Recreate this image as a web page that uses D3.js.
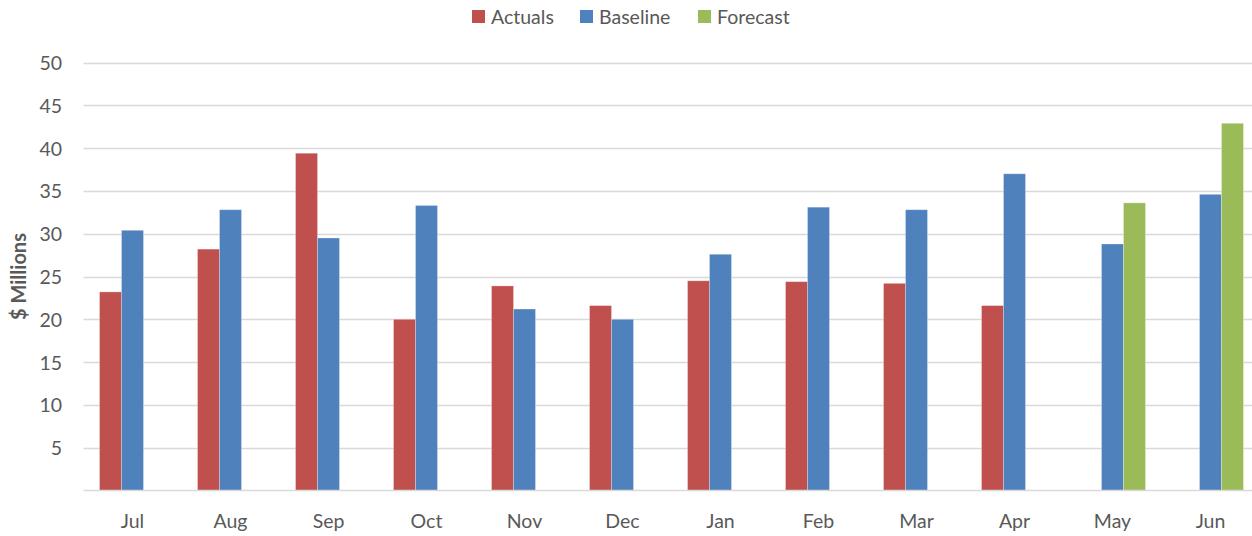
<!DOCTYPE html>
<html>
<head>
<meta charset="utf-8">
<script src="https://cdn.jsdelivr.net/npm/d3@7"></script>
<style>
  body { margin: 0; background: #fff; }
  svg text { font-family: Lato, "Open Sans", sans-serif; fill: #595959; }
</style>
</head>
<body>
<svg id="chart" width="1252" height="536"></svg>
<script>
// chart data
const months = ["Jul", "Aug", "Sep", "Oct", "Nov", "Dec", "Jan", "Feb", "Mar", "Apr", "May", "Jun"];
const actuals = [23.2, 28.2, 39.4, 20.0, 23.9, 21.6, 24.5, 24.4, 24.2, 21.6, null, null];
const baseline = [30.4, 32.8, 29.5, 33.3, 21.2, 20.0, 27.6, 33.1, 32.8, 37.0, 28.8, 34.6];
const forecast = [null, null, null, null, null, null, null, null, null, null, 33.6, 42.9];
const seriesNames = ["Actuals", "Baseline", "Forecast"];
const seriesColors = ["#C0504D", "#4F81BD", "#9BBB59"];
const yTicks = [5, 10, 15, 20, 25, 30, 35, 40, 45, 50];

const svg = d3.select("#chart");
const plotLeft = 83.5, plotRight = 1259.5, plotTop = 62.5, plotBottom = 490.5;

const x = d3.scaleBand().domain(months).range([plotLeft, plotRight]).paddingInner(0.327).paddingOuter(0.1635);
const xSub = d3.scaleBand().domain(seriesNames).range([0, x.bandwidth()]);
const y = d3.scaleLinear().domain([0, 50]).range([plotBottom, plotTop]);

// gridlines
svg.append("g")
    .selectAll("line")
    .data(yTicks)
    .join("line")
    .attr("x1", plotLeft)
    .attr("x2", 1252)
    .attr("y1", d => Math.round(y(d)) + 0.5)
    .attr("y2", d => Math.round(y(d)) + 0.5)
    .attr("stroke", "#D9D9D9")
    .attr("stroke-width", 1.3);

// y tick labels
svg.append("g")
    .selectAll("text")
    .data(yTicks)
    .join("text")
    .attr("x", 62)
    .attr("y", d => y(d))
    .attr("text-anchor", "end")
    .attr("dominant-baseline", "central")
    .style("font-size", "19.5px")
    .text(d => d);

// bars
const allSeries = [actuals, baseline, forecast];
allSeries.forEach((vals, si) => {
    svg.append("g")
        .selectAll("rect")
        .data(months.map((m, i) => ({ m, v: vals[i] })).filter(d => d.v != null))
        .join("rect")
        .attr("x", d => x(d.m) + xSub(seriesNames[si]))
        .attr("y", d => y(d.v))
        .attr("width", xSub.bandwidth())
        .attr("height", d => y(0) - y(d.v))
        .attr("fill", seriesColors[si])
        .attr("stroke", "rgba(255,255,255,0.35)")
        .attr("stroke-width", 0.8);
});

// x axis line
svg.append("line")
    .attr("x1", plotLeft)
    .attr("x2", 1252)
    .attr("y1", plotBottom)
    .attr("y2", plotBottom)
    .attr("stroke", "#D9D9D9")
    .attr("stroke-width", 1.5);

// x labels
svg.append("g")
    .selectAll("text")
    .data(months)
    .join("text")
    .attr("x", d => x(d) + x.bandwidth() / 2)
    .attr("y", 520)
    .attr("text-anchor", "middle")
    .attr("dominant-baseline", "central")
    .style("font-size", "19.5px")
    .text(d => d);

// y axis title
svg.append("text")
    .attr("transform", `translate(18,${(plotTop + plotBottom) / 2}) rotate(-90)`)
    .attr("text-anchor", "middle")
    .attr("dominant-baseline", "central")
    .style("font-size", "20px")
    .style("font-weight", "bold")
    .text("$ Millions");

// legend
const legendX = [472, 580, 698];
const legend = svg.append("g");
seriesNames.forEach((name, i) => {
    legend.append("rect")
        .attr("x", legendX[i])
        .attr("y", 10)
        .attr("width", 13)
        .attr("height", 13)
        .attr("fill", seriesColors[i]);
    legend.append("text")
        .attr("x", legendX[i] + 19)
        .attr("y", 16.5)
        .attr("dominant-baseline", "central")
        .style("font-size", "19.5px")
        .text(name);
});
</script>
</body>
</html>
